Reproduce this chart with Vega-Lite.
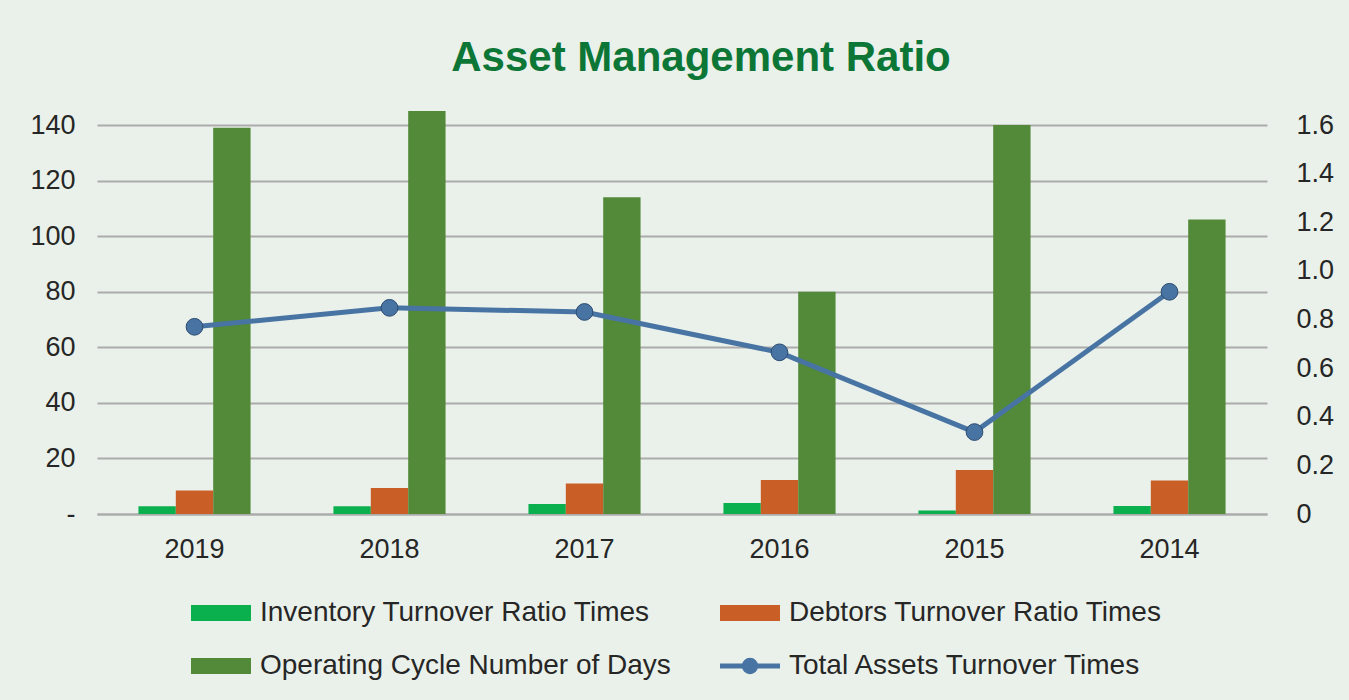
{
  "$schema": "https://vega.github.io/schema/vega-lite/v6.json",
  "width": 1170,
  "height": 389,
  "autosize": {"type": "none"},
  "padding": {"left": 97, "top": 125, "right": 82, "bottom": 186},
  "background": "#EAF1EA",
  "config": {
    "font": "Liberation Sans",
    "view": {"stroke": null},
    "axis": {"labelFont": "Liberation Sans", "labelColor": "#262626", "labelFontSize": 27, "ticks": false, "title": null}
  },
  "title": {
    "text": "Asset Management Ratio",
    "fontSize": 42,
    "fontWeight": "bold",
    "font": "Liberation Sans",
    "color": "#0C7636",
    "anchor": "middle",
    "dx": 19,
    "offset": 31
  },
  "datasets": {
    "bars": [
      {"year": "2019", "series": "Inventory Turnover Ratio Times", "value": 2.8},
      {"year": "2019", "series": "Debtors Turnover Ratio Times", "value": 8.5},
      {"year": "2019", "series": "Operating Cycle Number of Days", "value": 139},
      {"year": "2018", "series": "Inventory Turnover Ratio Times", "value": 2.8},
      {"year": "2018", "series": "Debtors Turnover Ratio Times", "value": 9.4},
      {"year": "2018", "series": "Operating Cycle Number of Days", "value": 145},
      {"year": "2017", "series": "Inventory Turnover Ratio Times", "value": 3.6},
      {"year": "2017", "series": "Debtors Turnover Ratio Times", "value": 11.0},
      {"year": "2017", "series": "Operating Cycle Number of Days", "value": 114},
      {"year": "2016", "series": "Inventory Turnover Ratio Times", "value": 4.0},
      {"year": "2016", "series": "Debtors Turnover Ratio Times", "value": 12.2},
      {"year": "2016", "series": "Operating Cycle Number of Days", "value": 80},
      {"year": "2015", "series": "Inventory Turnover Ratio Times", "value": 1.3},
      {"year": "2015", "series": "Debtors Turnover Ratio Times", "value": 15.8},
      {"year": "2015", "series": "Operating Cycle Number of Days", "value": 140},
      {"year": "2014", "series": "Inventory Turnover Ratio Times", "value": 2.9},
      {"year": "2014", "series": "Debtors Turnover Ratio Times", "value": 12.1},
      {"year": "2014", "series": "Operating Cycle Number of Days", "value": 106}
    ],
    "line": [
      {"year": "2019", "series": "Total Assets Turnover Times", "value": 0.77},
      {"year": "2018", "series": "Total Assets Turnover Times", "value": 0.848},
      {"year": "2017", "series": "Total Assets Turnover Times", "value": 0.831},
      {"year": "2016", "series": "Total Assets Turnover Times", "value": 0.665},
      {"year": "2015", "series": "Total Assets Turnover Times", "value": 0.337},
      {"year": "2014", "series": "Total Assets Turnover Times", "value": 0.914}
    ]
  },
  "encoding": {
    "x": {
      "field": "year",
      "type": "nominal",
      "sort": ["2019", "2018", "2017", "2016", "2015", "2014"],
      "scale": {"paddingInner": 0.425, "paddingOuter": 0.2125},
      "axis": {"labelAngle": 0, "labelPadding": 22, "domain": true, "domainColor": "#ABABAB", "domainWidth": 2, "grid": false}
    },
    "color": {
      "field": "series",
      "type": "nominal",
      "scale": {
        "domain": ["Inventory Turnover Ratio Times", "Debtors Turnover Ratio Times", "Operating Cycle Number of Days", "Total Assets Turnover Times"],
        "range": ["#0AB04E", "#CA5E27", "#538A39", "#4874A4"]
      },
      "legend": {
        "title": null,
        "orient": "none",
        "direction": "horizontal",
        "legendX": 110,
        "legendY": 474,
        "columns": 2,
        "columnPadding": 39,
        "rowPadding": 23,
        "symbolType": "M-1,-0.27H1V0.27H-1Z",
        "symbolSize": 3600,
        "labelFontSize": 28,
        "labelFont": "Liberation Sans",
        "labelColor": "#262626",
        "labelOffset": 25,
        "labelLimit": 0,
        "encode": {
          "symbols": {
            "update": {
              "shape": {"signal": "datum.value === 'Total Assets Turnover Times' ? 'M-1,0H1M-0.19,0A0.19,0.19,0,1,1,0.19,0A0.19,0.19,0,1,1,-0.19,0Z' : 'M-1,-0.27H1V0.27H-1Z'"},
              "fill": {"signal": "scale('color', datum.value)"},
              "stroke": {"signal": "scale('color', datum.value)"},
              "strokeWidth": {"signal": "datum.value === 'Total Assets Turnover Times' ? 5 : 0"},
              "opacity": {"value": 1},
              "fillOpacity": {"value": 1}
            }
          }
        }
      }
    }
  },
  "layer": [
    {
      "data": {"name": "bars"},
      "mark": {"type": "bar"},
      "encoding": {
        "xOffset": {
          "field": "series",
          "type": "nominal",
          "sort": ["Inventory Turnover Ratio Times", "Debtors Turnover Ratio Times", "Operating Cycle Number of Days"]
        },
        "y": {
          "field": "value",
          "type": "quantitative",
          "scale": {"domain": [0, 140], "nice": false},
          "axis": {
            "orient": "left",
            "values": [0, 20, 40, 60, 80, 100, 120, 140],
            "labelExpr": "datum.value === 0 ? '-\u00a0' : datum.label",
            "domain": false,
            "grid": true,
            "gridColor": "#ABABAB",
            "gridWidth": 2,
            "labelPadding": 22
          }
        }
      }
    },
    {
      "data": {"name": "line"},
      "mark": {
        "type": "line",
        "strokeWidth": 5,
        "point": {"filled": true, "size": 280, "stroke": "#2C4B70", "strokeWidth": 1}
      },
      "encoding": {
        "y": {
          "field": "value",
          "type": "quantitative",
          "scale": {"domain": [0, 1.6], "nice": false},
          "axis": {
            "orient": "right",
            "values": [0, 0.2, 0.4, 0.6, 0.8, 1.0, 1.2, 1.4, 1.6],
            "labelExpr": "datum.value === 0 ? '0' : format(datum.value, '.1f')",
            "domain": false,
            "grid": false,
            "labelPadding": 29
          }
        }
      }
    }
  ],
  "resolve": {"scale": {"y": "independent"}}
}
